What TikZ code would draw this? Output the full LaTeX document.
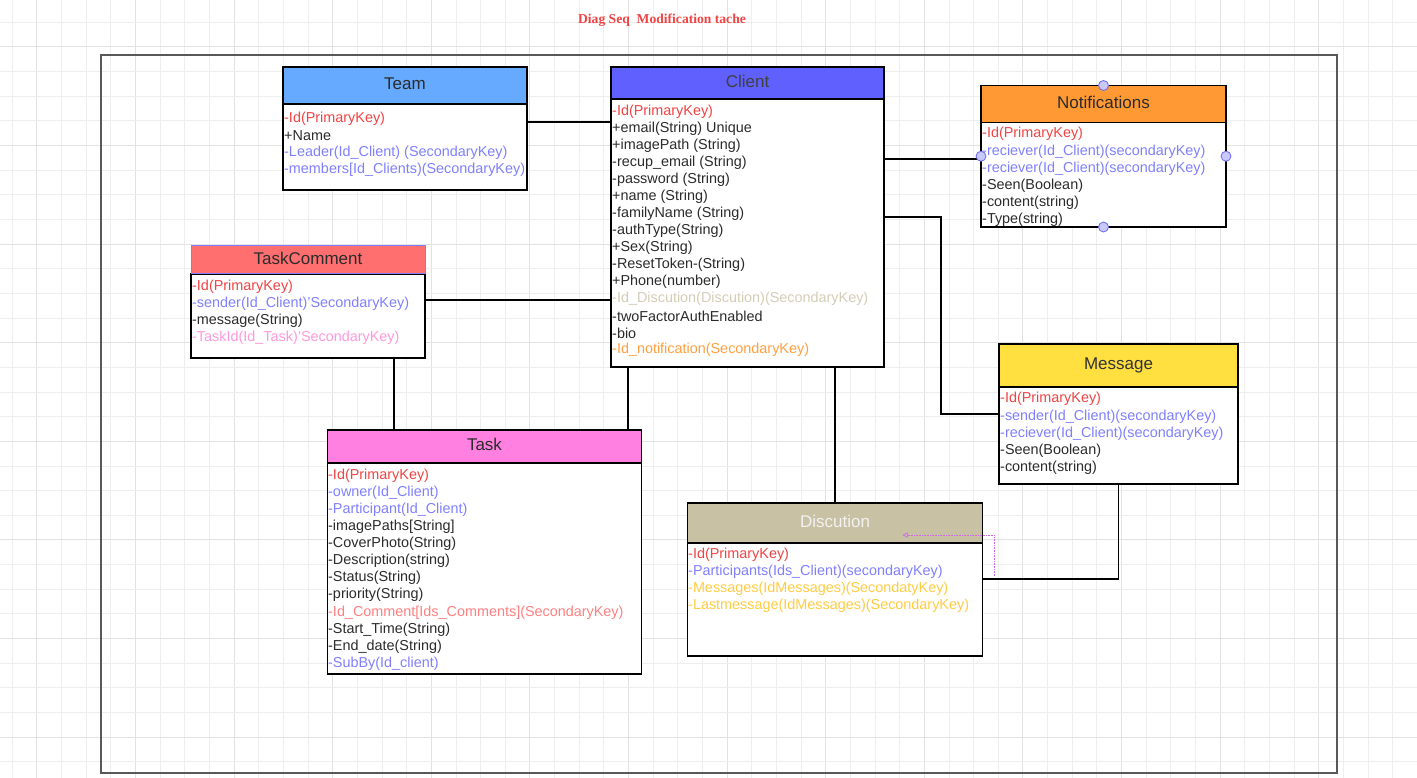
\documentclass[tikz,border=0pt]{standalone}
\usepackage{fontspec}
\setmainfont{Liberation Sans}
\newfontfamily\titlefont{Liberation Serif}
\usetikzlibrary{arrows.meta,calc}
\definecolor{cred}{HTML}{F04444}
\definecolor{cblue}{HTML}{8080FF}
\definecolor{cgold}{HTML}{FFCC40}
\definecolor{cbeige}{HTML}{D4CDB6}
\definecolor{corange}{HTML}{FFA040}
\definecolor{cpink}{HTML}{FF99DD}
\definecolor{csalmon}{HTML}{FF8080}
\definecolor{ctext}{HTML}{2B2B2B}
\definecolor{gridminor}{HTML}{EEEEEE}
\definecolor{gridmajor}{HTML}{E2E2E2}
\definecolor{hteam}{HTML}{66AAFF}
\definecolor{hclient}{HTML}{6060FF}
\definecolor{hnotif}{HTML}{FF9933}
\definecolor{htc}{HTML}{FF6F6F}
\definecolor{hmsg}{HTML}{FFE040}
\definecolor{htask}{HTML}{FF80E0}
\definecolor{hdisc}{HTML}{C9C1A3}
\definecolor{handlefill}{HTML}{C8C8FF}
\definecolor{handledraw}{HTML}{6A6AE8}
\definecolor{dotcol}{HTML}{CC66EE}
\newcommand\mkrow[5]{\node[attr,text=#4] (#1) at (#2,#3) {#5};}
\begin{document}
\begin{tikzpicture}[x=1pt,y=-1pt,
  attr/.style={anchor=west,inner sep=0pt,yshift=-2pt,font=\fontsize{14.4}{16}\selectfont},
  hdr/.style={draw=black,line width=1.5pt,outer sep=0pt,anchor=north west,inner sep=0pt,text height=12.5pt,text depth=4.3pt,font=\fontsize{17}{19}\selectfont,text=ctext},
  body/.style={draw=black,line width=1.5pt,outer sep=0pt,fill=white,anchor=north west,inner sep=0pt},
  conn/.style={draw=black,line width=1.5pt},
  handle/.style={circle,draw=handledraw,fill=handlefill,line width=0.8pt,minimum size=10pt,inner sep=0pt}]
\useasboundingbox (0,0) rectangle (1417,778);
\fill[white] (0,0) rectangle (1417,778);
% grid
\foreach \i in {0,...,57}{
  \pgfmathsetmacro\gx{12.3+24.65*\i}
  \pgfmathtruncatemacro\gm{mod(\i,4)}
  \ifnum\gm=1 \draw[gridmajor,line width=1pt] (\gx,0) -- (\gx,778);
  \else \draw[gridminor,line width=1pt] (\gx,0) -- (\gx,778); \fi}
\foreach \j in {0,...,31}{
  \pgfmathsetmacro\gy{22.3+24.65*\j}
  \pgfmathtruncatemacro\gm{mod(\j,4)}
  \ifnum\gm=1 \draw[gridmajor,line width=1pt] (0,\gy) -- (1417,\gy);
  \else \draw[gridminor,line width=1pt] (0,\gy) -- (1417,\gy); \fi}
% frame
\draw[draw=black!65,line width=1.2pt] (101,55) rectangle (1337,773);
% title
\node[inner sep=0pt,text=cred,font=\titlefont\bfseries\fontsize{13.6}{15}\selectfont] (title) at (662,20) {Diag Seq\ \ Modification tache};

% Team
\node[body,minimum width=244pt,minimum height=86pt] (teamb) at (283,104) {};
\node[hdr,fill=hteam,minimum width=244pt,minimum height=37pt] (team) at (283,67) {Team};
\mkrow{team1}{284}{117}{cred}{-Id(PrimaryKey)}
\mkrow{team2}{284}{134}{ctext}{+Name}
\mkrow{team3}{284}{151}{cblue}{-Leader(Id\_Client) (SecondaryKey)}
\mkrow{team4}{284}{168}{cblue}{-members[Id\_Clients)(SecondaryKey)}

% Client
\node[body,minimum width=273pt,minimum height=268pt] (clientb) at (611,99) {};
\node[hdr,fill=hclient,minimum width=273pt,minimum height=32pt,text=black!75] (client) at (611,67) {Client};
\mkrow{c1}{612}{110}{cred}{-Id(PrimaryKey)}
\mkrow{c2}{612}{127}{ctext}{+email(String) Unique}
\mkrow{c3}{612}{144}{ctext}{+imagePath (String)}
\mkrow{c4}{612}{161}{ctext}{-recup\_email (String)}
\mkrow{c5}{612}{178}{ctext}{-password (String)}
\mkrow{c6}{612}{195}{ctext}{+name (String)}
\mkrow{c7}{612}{212}{ctext}{-familyName (String)}
\mkrow{c8}{612}{229}{ctext}{-authType(String)}
\mkrow{c9}{612}{246}{ctext}{+Sex(String)}
\mkrow{c10}{612}{263}{ctext}{-ResetToken-(String)}
\mkrow{c11}{612}{280}{ctext}{+Phone(number)}
\mkrow{c12}{612}{297}{cbeige}{-Id\_Discution(Discution)(SecondaryKey)}
\mkrow{c13}{612}{314}{ctext}{-twoFactorAuthEnabled}
\mkrow{c14}{612}{331}{ctext}{-bio}
\mkrow{c15}{612}{348}{corange}{-Id\_notification(SecondaryKey)}

% Notifications
\node[body,minimum width=245pt,minimum height=105pt] (notifb) at (981,122) {};
\node[hdr,fill=hnotif,minimum width=245pt,minimum height=37pt] (notif) at (981,85.5) {Notifications};
\mkrow{n1}{982}{132}{cred}{-Id(PrimaryKey)}
\mkrow{n2}{982}{149.5}{cblue}{-reciever(Id\_Client)(secondaryKey)}
\mkrow{n3}{982}{166.5}{cblue}{-reciever(Id\_Client)(secondaryKey)}
\mkrow{n4}{982}{184}{ctext}{-Seen(Boolean)}
\mkrow{n5}{982}{201}{ctext}{-content(string)}
\mkrow{n6}{982}{218}{ctext}{-Type(string)}

% TaskComment
\node[body,minimum width=234pt,minimum height=84pt] (tcb) at (191,274) {};
\node[hdr,draw=cblue,line width=1pt,fill=htc,minimum width=234pt,minimum height=28pt] (tc) at (191,246) {TaskComment};
\mkrow{tc1}{192}{285}{cred}{-Id(PrimaryKey)}
\mkrow{tc2}{192}{302}{cblue}{-sender(Id\_Client)'SecondaryKey)}
\mkrow{tc3}{192}{319}{ctext}{-message(String)}
\mkrow{tc4}{192}{336}{cpink}{-TaskId(Id\_Task)'SecondaryKey)}

% Message
\node[body,minimum width=239pt,minimum height=97pt] (msgb) at (999,387) {};
\node[hdr,fill=hmsg,minimum width=239pt,minimum height=43pt,text=black!80] (msg) at (999,344) {Message};
\mkrow{m1}{1000}{397}{cred}{-Id(PrimaryKey)}
\mkrow{m2}{1000}{414.5}{cblue}{-sender(Id\_Client)(secondaryKey)}
\mkrow{m3}{1000}{431.5}{cblue}{-reciever(Id\_Client)(secondaryKey)}
\mkrow{m4}{1000}{449}{ctext}{-Seen(Boolean)}
\mkrow{m5}{1000}{466}{ctext}{-content(string)}

% Task
\node[body,minimum width=314pt,minimum height=211pt] (taskb) at (327.5,463) {};
\node[hdr,fill=htask,minimum width=314pt,minimum height=33pt] (task) at (327.5,430) {Task};
\mkrow{t1}{328}{474}{cred}{-Id(PrimaryKey)}
\mkrow{t2}{328}{491}{cblue}{-owner(Id\_Client)}
\mkrow{t3}{328}{508}{cblue}{-Participant(Id\_Client)}
\mkrow{t4}{328}{525}{ctext}{-imagePaths[String]}
\mkrow{t5}{328}{542}{ctext}{-CoverPhoto(String)}
\mkrow{t6}{328}{559}{ctext}{-Description(string)}
\mkrow{t7}{328}{576}{ctext}{-Status(String)}
\mkrow{t8}{328}{593}{ctext}{-priority(String)}
\mkrow{t9}{328}{610.5}{csalmon}{-Id\_Comment[Ids\_Comments](SecondaryKey)}
\mkrow{t10}{328}{628}{ctext}{-Start\_Time(String)}
\mkrow{t11}{328}{645}{ctext}{-End\_date(String)}
\mkrow{t12}{328}{662}{cblue}{-SubBy(Id\_client)}

% Discution
\node[body,minimum width=295pt,minimum height=113pt] (discb) at (687.5,543) {};
\node[hdr,fill=hdisc,minimum width=295pt,minimum height=40pt,text=white!95!black] (disc) at (687.5,503) {Discution};
\mkrow{d1}{688}{553}{cred}{-Id(PrimaryKey)}
\mkrow{d2}{688}{570}{cblue}{-Participants(Ids\_Client)(secondaryKey)}
\mkrow{d3}{688}{587}{cgold}{-Messages(IdMessages)(SecondatyKey)}
\mkrow{d4}{688}{604}{cgold}{-Lastmessage(IdMessages)(SecondaryKey)}

% connectors
\coordinate (a1) at ([yshift=-18pt]teamb.north east);
\draw[conn] (a1) -- (a1 -| clientb.west);
\coordinate (a2) at ([yshift=-26pt]tcb.north east);
\draw[conn] (a2) -- (a2 -| clientb.west);
\coordinate (a3) at ([xshift=203pt]tcb.south west);
\draw[conn] (a3) -- (a3 |- task.north);
\coordinate (a4) at ([xshift=17pt]clientb.south west);
\draw[conn] (a4) -- (a4 |- task.north);
\coordinate (a5) at ([xshift=224pt]clientb.south west);
\draw[conn] (a5) -- (a5 |- disc.north);
\coordinate (a6) at ([yshift=-60pt]clientb.north east);
\draw[conn] (a6) -- (a6 -| notifb.west);
\coordinate (a7) at ([yshift=-118pt]clientb.north east);
\coordinate (m7) at ([yshift=-27pt]msgb.north west);
\draw[conn] (a7) -- ++(57,0) |- (m7);
\coordinate (d8) at ([yshift=-36pt]discb.north east);
\draw[conn] (msgb.south) |- (d8);

% dotted guide
\coordinate (g1) at ([xshift=12pt,yshift=8pt]disc.south east);
\coordinate (g2) at ([xshift=-80pt,yshift=8pt]disc.south east);
\coordinate (g3) at ([xshift=12pt,yshift=-33pt]disc.south east);
\draw[dotcol,line width=0.6pt,densely dotted] (g3) -- (g1);
\draw[dotcol,line width=0.6pt,densely dotted,-{Triangle[open,length=5pt,width=5pt]}] (g1) -- (g2);

% selection handles
\coordinate (nc) at ($(notif.north)!0.5!(notifb.south)$);
\node[handle] (h1) at (notif.north) {};
\node[handle] (h2) at (notifb.south) {};
\node[handle] (h3) at (nc -| notifb.west) {};
\node[handle] (h4) at (nc -| notifb.east) {};
\end{tikzpicture}
\end{document}
